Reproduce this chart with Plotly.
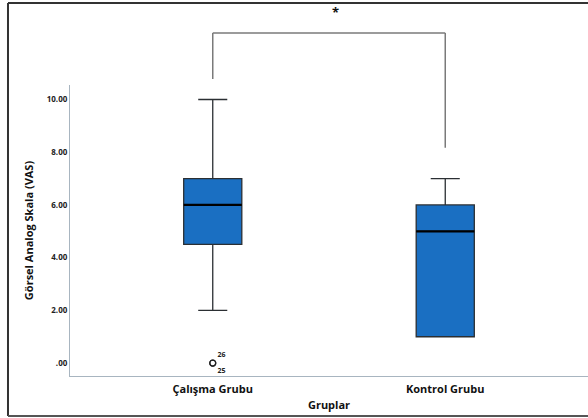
import plotly.graph_objects as go

# Data
categories = ["Çalışma Grubu", "Kontrol Grubu"]
lower_whisker = [2.0, 1.0]
q1_values = [4.5, 1.0]
median_values = [6.0, 5.0]
q3_values = [7.0, 6.0]
upper_whisker = [10.0, 7.0]
outlier_group = [0, 0]
outlier_values = [0.0, 0.0]
outlier_labels = ["26", "25"]
y_tick_values = [0, 2, 4, 6, 8, 10]
y_tick_labels = [".00", "2.00", "4.00", "6.00", "8.00", "10.00"]
significance_label = "*"

BOX_W = 0.25
FONT = "Open Sans"
positions = list(range(len(categories)))

fig = go.Figure()
fig.add_trace(go.Box(
    x=positions, q1=q1_values, median=median_values, q3=q3_values,
    lowerfence=lower_whisker, upperfence=upper_whisker,
    width=BOX_W, whiskerwidth=0.5,
    fillcolor="#1a6fc2", line=dict(color="#2b2f33", width=1.3),
    boxpoints=False, showlegend=False, hoverinfo="skip",
))
# thicker black median lines
for p, m in zip(positions, median_values):
    fig.add_trace(go.Scatter(
        x=[p - BOX_W / 2, p + BOX_W / 2], y=[m, m], mode="lines",
        line=dict(color="#000000", width=2.2), showlegend=False, hoverinfo="skip",
    ))
# outliers
fig.add_trace(go.Scatter(
    x=outlier_group, y=outlier_values, mode="markers+text",
    text=outlier_labels, textposition=["top right", "bottom right"],
    textfont=dict(family=FONT, size=7, color="#222", weight="bold"),
    marker=dict(symbol="circle-open", size=6, color="#222", line=dict(width=1.2)),
    cliponaxis=False, showlegend=False, hoverinfo="skip",
))

# significance bracket (y in paper units)
br_col = "#7a7a7a"
shapes = [
    dict(type="line", xref="x", yref="paper", x0=positions[0], x1=positions[1],
         y0=1.179, y1=1.179, line=dict(color=br_col, width=1.5)),
    dict(type="line", xref="x", yref="paper", x0=positions[0], x1=positions[0],
         y0=1.179, y1=1.021, line=dict(color=br_col, width=1.5)),
    dict(type="line", xref="x", yref="paper", x0=positions[1], x1=positions[1],
         y0=1.179, y1=0.784, line=dict(color=br_col, width=1.5)),
    # outer frame
    dict(type="line", xref="paper", yref="paper", x0=-0.1197, x1=1.01,
         y0=1.2818, y1=1.2818, line=dict(color="#333", width=2)),
    dict(type="line", xref="paper", yref="paper", x0=-0.1197, x1=-0.1197,
         y0=1.2818, y1=-0.1375, line=dict(color="#333", width=2)),
    dict(type="line", xref="paper", yref="paper", x0=-0.1197, x1=1.01,
         y0=-0.1375, y1=-0.1375, line=dict(color="#555", width=2)),
]
fig.add_annotation(x=0.53, xref="x", y=1.251, yref="paper", yanchor="middle",
                   text="<b>" + significance_label + "</b>",
                   showarrow=False, font=dict(family=FONT, size=13, color="#111"))

fig.update_layout(
    width=588, height=418,
    margin=dict(l=70, r=0, t=85, b=42),
    paper_bgcolor="white", plot_bgcolor="white",
    shapes=shapes, showlegend=False,
    font=dict(family=FONT, color="#222"),
)
fig.update_xaxes(
    range=[-0.614, 1.614], tickvals=positions, ticktext=categories,
    showline=True, linecolor="#a8b5c0", linewidth=1.2, ticks="", showgrid=False, zeroline=False,
    tickfont=dict(family=FONT, size=11, color="#111", weight="bold"), ticklabelstandoff=3,
    title=dict(text="Gruplar", font=dict(family=FONT, size=11, color="#111", weight="bold"), standoff=6),
)
fig.update_yaxes(
    range=[-0.49, 10.55], tickvals=y_tick_values, ticktext=y_tick_labels,
    showline=True, linecolor="#a8b5c0", linewidth=1.2, ticks="", showgrid=False, zeroline=False,
    tickfont=dict(family=FONT, size=8, color="#222", weight="bold"),
    title=dict(text="Görsel Analog Skala (VAS)", font=dict(family=FONT, size=11, color="#111", weight="bold"), standoff=10),
)

fig.write_html("out.html", config={"displayModeBar": False},
               post_script="document.body.style.margin='0px';")
